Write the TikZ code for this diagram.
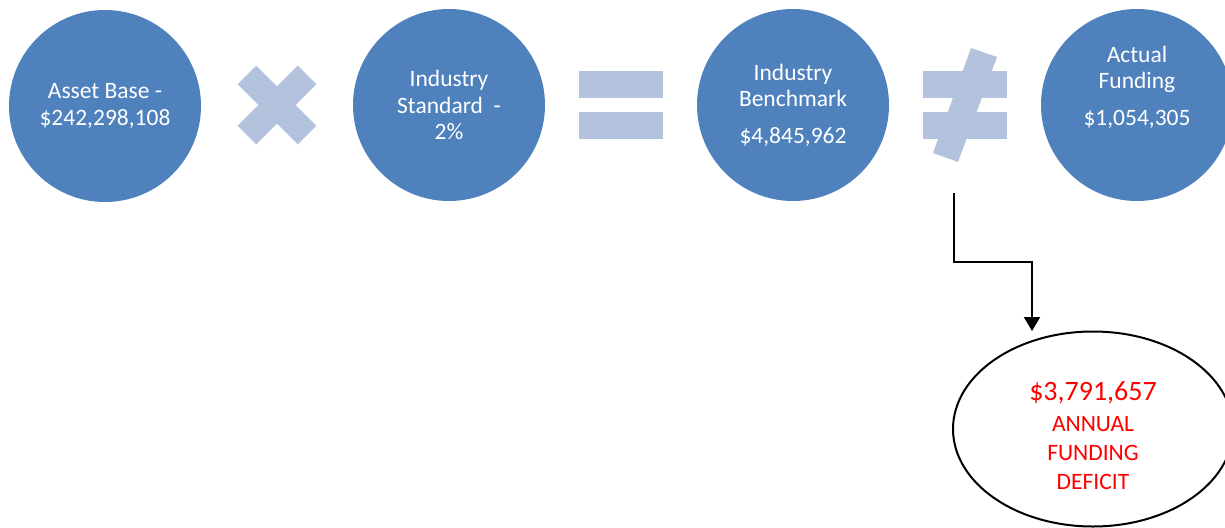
\documentclass[tikz,border=0pt]{standalone}
\usepackage{fontspec}
\setmainfont{Carlito}
\usetikzlibrary{shapes.geometric,arrows.meta}
\definecolor{circblue}{RGB}{79,129,189}
\definecolor{opblue}{RGB}{179,194,221}
\begin{document}
\begin{tikzpicture}[x=1pt,y=-1pt,
  term/.style={circle,fill=circblue,minimum size=192pt,inner sep=0pt,text=white,align=center,font=\fontsize{23.5}{26.5}\selectfont},
  termtext/.style={inner sep=0pt,text=white,align=center,font=\fontsize{23.5}{26.5}\selectfont},
  result/.style={ellipse,draw,line width=2pt,minimum width=280pt,minimum height=195pt,inner sep=0pt},
  resulttext/.style={inner sep=0pt,text=red,align=center,font=\fontsize{23.5}{29}\selectfont},
  flow/.style={line width=2pt,-{Triangle[width=16pt,length=14pt]}}]
\useasboundingbox (0,0) rectangle (1225,527);
\clip (0,0) rectangle (1225,527);
% the four terms
\node[term] (asset) at (105,106) {Asset Base -\\\$242,298,108};
\node[term] (standard) at (449,105) {Industry\\Standard~~-\\2\%};
\node[term] (bench) at (793,105) {Industry\\Benchmark\\[10pt]\$4,845,962};
\node[term] (actual) at (1137,105) {};
\node[termtext] (actualtext) at (1137,87) {Actual\\Funding\\[10pt]\$1,054,305};
% times sign
\fill[opblue,rotate around={45:(277,105)}] (234.5,91.75) rectangle (319.5,118.25);
\fill[opblue,rotate around={-45:(277,105)}] (234.5,91.75) rectangle (319.5,118.25);
% equals and not equals bars
\foreach \xx in {579,923} {
  \fill[opblue] (\xx,71) rectangle ++(84,27);
  \fill[opblue] (\xx,112) rectangle ++(84,27);
}
\fill[opblue] (971,48) -- (997,57) -- (958,162) -- (933,153) -- cycle;
% deficit
\node[result] (deficit) at (1093,429) {};
\node[resulttext] (deficittext) at (1093,436) {{\fontsize{28}{30}\selectfont\$3,791,657}\\[2pt]ANNUAL\\FUNDING\\DEFICIT};
\coordinate (from) at (954,193);
\coordinate (elbow) at (1032,262);
\coordinate (tip) at (1032,331);
\draw[flow] (from) |- (elbow) -- (tip);
\end{tikzpicture}
\end{document}
